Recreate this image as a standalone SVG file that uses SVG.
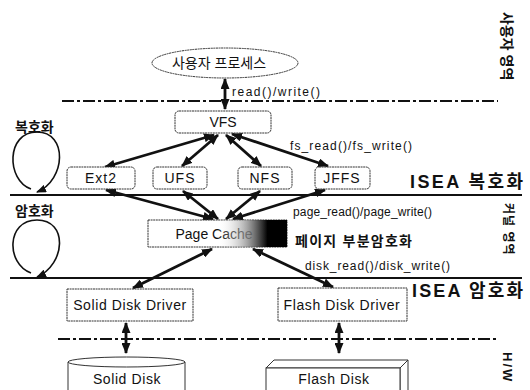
<svg xmlns="http://www.w3.org/2000/svg" width="530" height="390" viewBox="0 0 530 390">
<defs>
<style>
text{font-family:"Liberation Sans","Noto Sans CJK KR",sans-serif;fill:#111}
.lbl{font-size:14px;text-anchor:middle}
.sm{font-size:12px}
.b{font-weight:bold}
.box{fill:#fff;stroke:#333;stroke-width:1;stroke-dasharray:2 0.6}
.arr{stroke:#111;stroke-width:2.8;fill:none;marker-start:url(#ah);marker-end:url(#ah)}
.dd{stroke:#111;stroke-width:2;fill:none;stroke-dasharray:12 3 3 3}
.sol{stroke:#111;stroke-width:2;fill:none}
.loop{stroke:#111;stroke-width:1.6;fill:none;marker-end:url(#ah2)}
</style>
<marker id="ah" markerUnits="userSpaceOnUse" markerWidth="11" markerHeight="9" refX="10" refY="4.5" orient="auto-start-reverse"><path d="M0,0 L11,4.5 L0,9 z" fill="#111"/></marker>
<marker id="ah2" markerUnits="userSpaceOnUse" markerWidth="10" markerHeight="8" refX="9" refY="4" orient="auto"><path d="M0,0 L10,4 L0,8 z" fill="#111"/></marker>
<linearGradient id="pg" x1="0" x2="1" y1="0" y2="0">
<stop offset="0" stop-color="#fff" stop-opacity="0"/>
<stop offset="0.5" stop-color="#fff" stop-opacity="0"/>
<stop offset="0.72" stop-color="#888" stop-opacity="0.8"/>
<stop offset="0.86" stop-color="#000" stop-opacity="1"/>
<stop offset="1" stop-color="#000" stop-opacity="1"/>
</linearGradient>
</defs>

<g id="layers">
<line class="dd" x1="62" y1="101" x2="498" y2="101"/>
<line class="sol" x1="10" y1="195" x2="522" y2="195"/>
<line class="sol" x1="10" y1="278" x2="522" y2="278"/>
<line class="dd" x1="58" y1="339" x2="498" y2="339"/>
</g>

<g id="connectors">
<line class="arr" x1="225" y1="79" x2="225" y2="109"/>
<line class="arr" x1="214" y1="135" x2="105" y2="167"/>
<line class="arr" x1="218" y1="135" x2="182" y2="166"/>
<line class="arr" x1="226" y1="135" x2="261" y2="166"/>
<line class="arr" x1="232" y1="134" x2="328" y2="166"/>
<line class="arr" x1="106" y1="190" x2="213" y2="219"/>
<line class="arr" x1="183" y1="191" x2="218" y2="219"/>
<line class="arr" x1="260" y1="191" x2="226" y2="219"/>
<line class="arr" x1="325" y1="190" x2="233" y2="219"/>
<line class="arr" x1="212" y1="249" x2="133" y2="288"/>
<line class="arr" x1="253" y1="249" x2="333" y2="287"/>
<line class="arr" x1="126" y1="323" x2="126" y2="353"/>
<line class="arr" x1="339" y1="323" x2="339" y2="353"/>
<path class="loop" d="M31,189 C6,180 6,132 37,132 C68,132 66,180 37,192"/>
<path class="loop" d="M31,273 C6,264 6,220 37,220 C68,220 66,264 37,277"/>
</g>

<g id="process">
<ellipse cx="225" cy="63" rx="73" ry="15" fill="#fff" stroke="#333" stroke-width="1" stroke-dasharray="2 0.6"/>
<text class="lbl" x="219" y="68">사용자 프로세스</text>
</g>
<g id="vfs"><rect class="box" x="175" y="111" width="96" height="22" rx="4"/><text class="lbl" x="223" y="127">VFS</text></g>
<g id="ext2"><rect class="box" x="67" y="167" width="68" height="22" rx="4"/><text class="lbl" x="101" y="183" letter-spacing="1">Ext2</text></g>
<g id="ufs"><rect class="box" x="153" y="167" width="54" height="22" rx="4"/><text class="lbl" x="180" y="183" letter-spacing="1">UFS</text></g>
<g id="nfs"><rect class="box" x="238" y="167" width="54" height="22" rx="4"/><text class="lbl" x="265" y="183" letter-spacing="1">NFS</text></g>
<g id="jffs"><rect class="box" x="315" y="167" width="55" height="22" rx="4"/><text class="lbl" x="342" y="183" letter-spacing="1">JFFS</text></g>
<g id="pagecache">
<rect class="box" x="148" y="220" width="139" height="27"/>
<text class="lbl" x="214" y="239">Page Cache</text>
<rect x="148" y="220" width="139" height="27" fill="url(#pg)"/>
</g>
<g id="soliddriver"><rect class="box" x="67" y="289" width="126" height="32"/><text class="lbl" x="130" y="310" font-size="13" letter-spacing="0.6">Solid Disk Driver</text></g>
<g id="flashdriver"><rect class="box" x="278" y="288" width="129" height="33"/><text class="lbl" x="342" y="310" font-size="13" letter-spacing="0.6">Flash Disk Driver</text></g>
<g id="soliddisk">
<path d="M68,362 L68,392 M185,362 L185,392" stroke="#333" stroke-width="1" fill="none"/>
<ellipse cx="126.5" cy="362" rx="58.5" ry="5" fill="#fff" stroke="#333" stroke-width="1"/>
<text class="lbl" x="127" y="384" font-size="13" letter-spacing="0.6">Solid Disk</text>
</g>
<g id="flashdisk">
<path d="M266,368 L274,360 L408,360 L400,368 Z" fill="#fff" stroke="#333" stroke-width="1"/>
<path d="M400,368 L408,360 L408,392 L400,392 Z" fill="#fff" stroke="#333" stroke-width="1"/>
<rect x="266" y="368" width="134" height="26" fill="#fff" stroke="#333" stroke-width="1"/>
<text class="lbl" x="334" y="384" font-size="13" letter-spacing="0.6">Flash Disk</text>
</g>

<g id="labels">
<text class="sm" x="232" y="96" textLength="88" lengthAdjust="spacing">read()/write()</text>
<text class="sm" x="290" y="150" textLength="122" lengthAdjust="spacing">fs_read()/fs_write()</text>
<text class="sm" x="293" y="216" textLength="139" lengthAdjust="spacing">page_read()/page_write()</text>
<text class="sm" x="305" y="270" textLength="145" lengthAdjust="spacing">disk_read()/disk_write()</text>
<text class="b" x="295" y="246" font-size="14" textLength="117" lengthAdjust="spacing">페이지 부분암호화</text>
<text class="b" x="410" y="188" font-size="18" textLength="113" lengthAdjust="spacing">ISEA 복호화</text>
<text class="b" x="412" y="297" font-size="18" textLength="111" lengthAdjust="spacing">ISEA 암호화</text>
<text class="b" x="15" y="132" font-size="14">복호화</text>
<text class="b" x="15" y="216" font-size="14">암호화</text>
<text class="b" font-size="14" transform="translate(502,12) rotate(90)">사용자 영역</text>
<text class="b" font-size="12" transform="translate(504,203) rotate(90)" letter-spacing="1">커널 영역</text>
<text class="b" font-size="13" transform="translate(503,352) rotate(90)" letter-spacing="2">H/W</text>
</g>
</svg>
